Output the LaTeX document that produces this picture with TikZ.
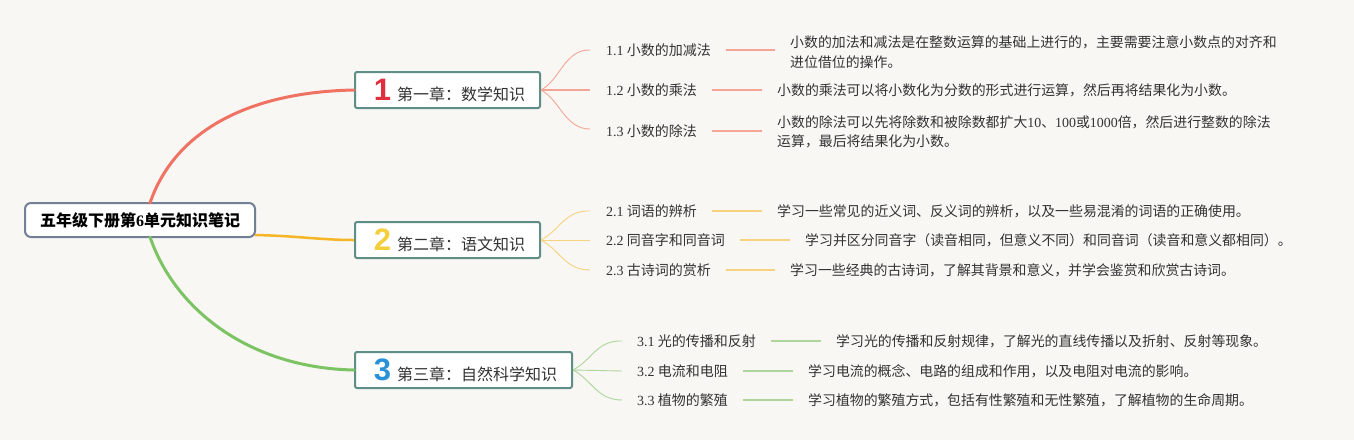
\documentclass[tikz,border=0pt]{standalone}
\usepackage{fontspec}
\setmainfont{Liberation Serif}
\newfontfamily\cjk{Noto Sans CJK SC}
\newfontfamily\numfnt{Liberation Sans}
\newcommand\lt[1]{{\rmfamily #1}}
\newcommand\bignum{\numfnt\fontsize{31}{31}\selectfont\bfseries}
\definecolor{bg}{HTML}{F8F7F4}
\definecolor{txt}{HTML}{333333}
\definecolor{rootb}{HTML}{737F95}
\definecolor{chapb}{HTML}{5F8E87}
\definecolor{redm}{HTML}{F07262}
\definecolor{yelm}{HTML}{F5B626}
\definecolor{grnm}{HTML}{7CC363}
\definecolor{redl}{HTML}{F4A595}
\definecolor{yell}{HTML}{F6D27E}
\definecolor{grnl}{HTML}{ACD69C}
\definecolor{n1}{HTML}{E0303F}
\definecolor{n2}{HTML}{F3CF3E}
\definecolor{n3}{HTML}{2A90D8}
\tikzset{
  rootbox/.style={draw=rootb, line width=2pt, fill=white, rounded corners=6pt,
    minimum width=230pt, minimum height=34pt, inner sep=0pt,
    font=\cjk\fontsize{16}{18}\selectfont\bfseries, text=black},
  chapbox/.style={draw=chapb, line width=2pt, fill=white, rounded corners=2pt,
    minimum height=36pt, inner sep=0pt, font=\cjk\fontsize{16}{18}\selectfont, text=txt},
  subt/.style={anchor=west, inner sep=0pt, font=\cjk\fontsize{14}{16}\selectfont, text=txt},
  detail/.style={anchor=west, inner sep=0pt, align=left, font=\cjk\fontsize{13.9}{19.5}\selectfont, text=txt},
  mainlink/.style={line width=3pt, line cap=round},
  fanlink/.style={line width=0.9pt},
  seglink/.style={line width=1.6pt, shorten <=15pt, shorten >=15pt},
}
\begin{document}
\begin{tikzpicture}[x=1pt,y=-1pt]
\fill[bg] (0,0) rectangle (1354,440);
\useasboundingbox (0,0) rectangle (1354,440);

% root
\node[rootbox] (root) at (140,220) {五年级下册第\lt{\bfseries 6}单元知识笔记};

% chapters
\node[chapbox, minimum width=185pt] (c1) at (447.5,90)
  {\hspace{4pt}{\bignum\color{n1}1}\hspace{6pt}第一章：数学知识\hspace{2pt}};
\node[chapbox, minimum width=185pt] (c2) at (447.5,240)
  {\hspace{4pt}{\bignum\color{n2}2}\hspace{6pt}第二章：语文知识\hspace{2pt}};
\node[chapbox, minimum width=217pt] (c3) at (463.5,370)
  {\hspace{4pt}{\bignum\color{n3}3}\hspace{6pt}第三章：自然科学知识\hspace{2pt}};

\coordinate (r1) at (150,203);
\coordinate (r3) at (150,237);
\coordinate (r2) at (255,235);
\draw[mainlink, redm] (r1) .. controls (175,130) and (250,92) .. (c1.west);
\draw[line width=2.5pt, yelm] (r2) .. controls (300,236) and (320,240) .. (c2.west);
\draw[mainlink, grnm] (r3) .. controls (175,310) and (250,368) .. (c3.west);

% chapter 1 subtopics
\node[subt] (s11) at (606,50) {\lt{1.1} 小数的加减法};
\node[subt] (s12) at (606,90) {\lt{1.2} 小数的乘法};
\node[subt] (s13) at (606,131) {\lt{1.3} 小数的除法};
\node[detail] (d11) at (790,52) {小数的加法和减法是在整数运算的基础上进行的，主要需要注意小数点的对齐和\\进位借位的操作。};
\node[detail] (d12) at (777,90) {小数的乘法可以将小数化为分数的形式进行运算，然后再将结果化为小数。};
\node[detail] (d13) at (777,132) {小数的除法可以先将除数和被除数都扩大\lt{10}、\lt{100}或\lt{1000}倍，然后进行整数的除法\\运算，最后将结果化为小数。};

\draw[fanlink, redl] (c1.east) .. controls (560,80) and (565,49) .. ([xshift=-16pt]s11.west);
\draw[line width=1.6pt, redl] (c1.east) -- ([xshift=-16pt]s12.west);
\draw[fanlink, redl] (c1.east) .. controls (560,100) and (565,129) .. ([xshift=-16pt,yshift=2pt]s13.west);
\draw[seglink, redl] (s11.east) -- (s11.east -| d11.west);
\draw[seglink, redl] (s12.east) -- (d12.west);
\draw[seglink, redl] (s13.east) -- (s13.east -| d13.west);

% chapter 2 subtopics
\node[subt] (s21) at (606,211) {\lt{2.1} 词语的辨析};
\node[subt] (s22) at (606,240) {\lt{2.2} 同音字和同音词};
\node[subt] (s23) at (606,270) {\lt{2.3} 古诗词的赏析};
\node[detail] (d21) at (777,211) {学习一些常见的近义词、反义词的辨析，以及一些易混淆的词语的正确使用。};
\node[detail] (d22) at (805,240) {学习并区分同音字（读音相同，但意义不同）和同音词（读音和意义都相同）。};
\node[detail] (d23) at (790,270) {学习一些经典的古诗词，了解其背景和意义，并学会鉴赏和欣赏古诗词。};

\draw[fanlink, yell] (c2.east) .. controls (560,230) and (565,210) .. ([xshift=-16pt]s21.west);
\draw[fanlink, yell] (c2.east) -- ([xshift=-16pt]s22.west);
\draw[fanlink, yell] (c2.east) .. controls (560,250) and (565,270) .. ([xshift=-16pt]s23.west);
\draw[seglink, yell] (s21.east) -- (d21.west);
\draw[seglink, yell] (s22.east) -- (d22.west);
\draw[seglink, yell] (s23.east) -- (d23.west);

% chapter 3 subtopics
\node[subt] (s31) at (637,341) {\lt{3.1} 光的传播和反射};
\node[subt] (s32) at (637,371) {\lt{3.2} 电流和电阻};
\node[subt] (s33) at (637,400) {\lt{3.3} 植物的繁殖};
\node[detail] (d31) at (836,341) {学习光的传播和反射规律，了解光的直线传播以及折射、反射等现象。};
\node[detail] (d32) at (808,371) {学习电流的概念、电路的组成和作用，以及电阻对电流的影响。};
\node[detail] (d33) at (808,400) {学习植物的繁殖方式，包括有性繁殖和无性繁殖，了解植物的生命周期。};

\draw[fanlink, grnl] (c3.east) .. controls (592,360) and (597,340) .. ([xshift=-15pt]s31.west);
\draw[fanlink, grnl] (c3.east) -- ([xshift=-15pt]s32.west);
\draw[fanlink, grnl] (c3.east) .. controls (592,380) and (597,400) .. ([xshift=-15pt]s33.west);
\draw[seglink, grnl] (s31.east) -- (d31.west);
\draw[seglink, grnl] (s32.east) -- (d32.west);
\draw[seglink, grnl] (s33.east) -- (d33.west);
\end{tikzpicture}
\end{document}
